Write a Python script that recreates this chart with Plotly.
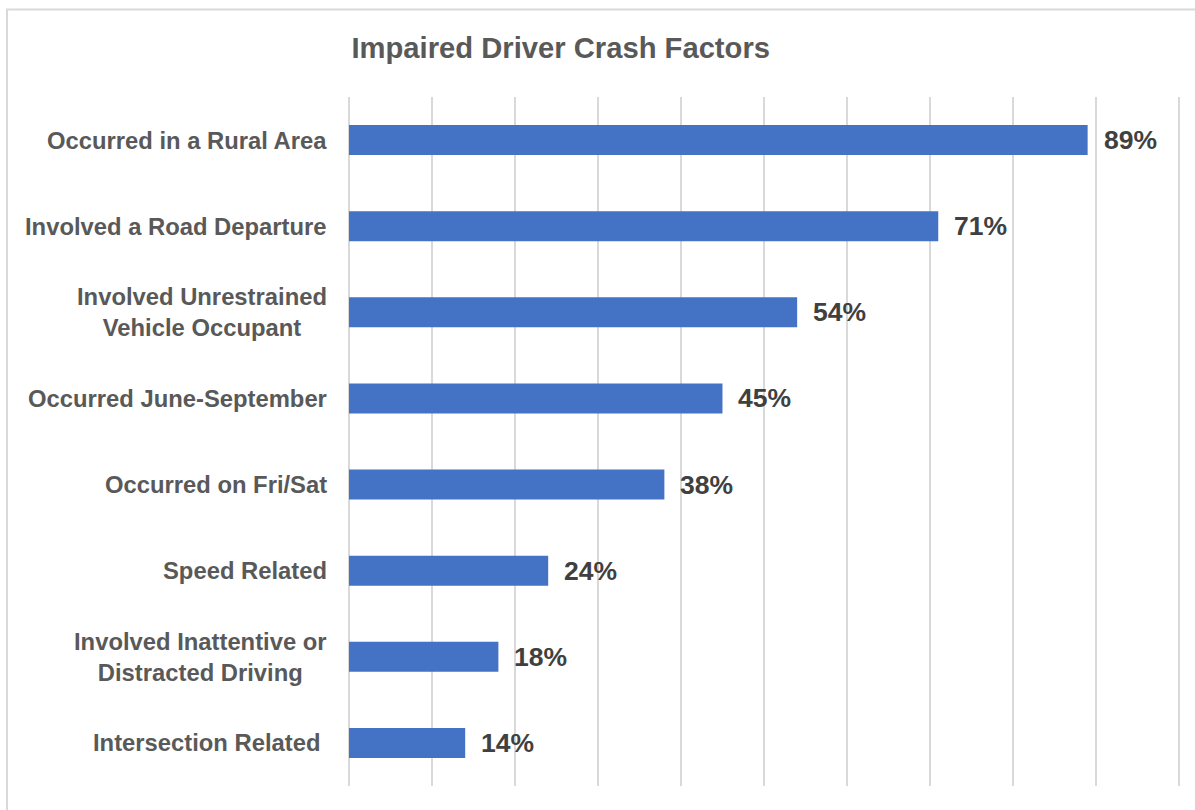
import plotly.graph_objects as go

categories = [
    "Occurred in a Rural Area",
    "Involved a Road Departure",
    "Involved Unrestrained<br>Vehicle Occupant",
    "Occurred June-September",
    "Occurred on Fri/Sat",
    "Speed Related",
    "Involved Inattentive or<br>Distracted Driving",
    "Intersection Related\u00a0",
]
values = [89, 71, 54, 45, 38, 24, 18, 14]
title_text = "Impaired Driver Crash Factors"

FONT = "Liberation Sans, Arial, sans-serif"
BAR_COLOR = "#4472C4"
GRID = "#d9d9d9"

fig = go.Figure()
fig.add_trace(go.Bar(
    x=values,
    y=categories,
    orientation="h",
    marker=dict(color=BAR_COLOR, line=dict(width=0)),
    hoverinfo="skip",
))

annotations = []
for cat, v in zip(categories, values):
    # category label
    annotations.append(dict(
        x=0, xref="paper", y=cat, yref="y",
        text=f"<b>{cat}</b>", showarrow=False,
        xanchor="right", yanchor="middle", align="center",
        xshift=-20,
        font=dict(family=FONT, size=23.8, color="#595959"),
    ))
    # data label
    annotations.append(dict(
        x=v, xref="x", y=cat, yref="y",
        text=f"<b>{v}%</b>", showarrow=False,
        xanchor="left", yanchor="middle",
        xshift=14,
        font=dict(family=FONT, size=26.5, color="#404040"),
    ))

W, H = 1195, 810
XMAX = 100.25
L, T, B = 349, 97, 24
pw = 830 * XMAX / 100
R = W - L - pw
ph = H - T - B

def px_x(p):
    return (p - L) / pw

def px_y(p):
    return (H - B - p) / ph

fig.update_layout(
    width=W, height=H,
    margin=dict(l=L, r=R, t=T, b=B, pad=0),
    paper_bgcolor="white",
    plot_bgcolor="white",
    showlegend=False,
    bargap=0.652,
    title=dict(
        text=f"<b>{title_text}</b>",
        x=0.003, xref="paper", xanchor="left",
        y=1 - 48 / H, yref="container", yanchor="middle",
        font=dict(family=FONT, size=29.2, color="#595959"),
    ),
    xaxis=dict(
        range=[0, XMAX], dtick=10, tick0=0,
        showticklabels=False,
        showgrid=True, gridcolor=GRID, gridwidth=1.5,
        zeroline=True, zerolinecolor=GRID, zerolinewidth=1.5,
        showline=False, fixedrange=True,
    ),
    yaxis=dict(
        autorange="reversed",
        showticklabels=False,
        showgrid=False, zeroline=False, showline=False,
        fixedrange=True,
    ),
    annotations=annotations,
    shapes=[dict(
        type="rect", xref="paper", yref="paper",
        x0=px_x(7), x1=px_x(1260), y0=px_y(870), y1=px_y(9.5),
        line=dict(color="#d9d9d9", width=2), fillcolor="rgba(0,0,0,0)",
        layer="below",
    )],
)

fig.write_html(
    "out.html",
    config={"displayModeBar": False, "staticPlot": True},
    post_script="document.body.style.margin='0';document.body.style.overflow='hidden';",
)
